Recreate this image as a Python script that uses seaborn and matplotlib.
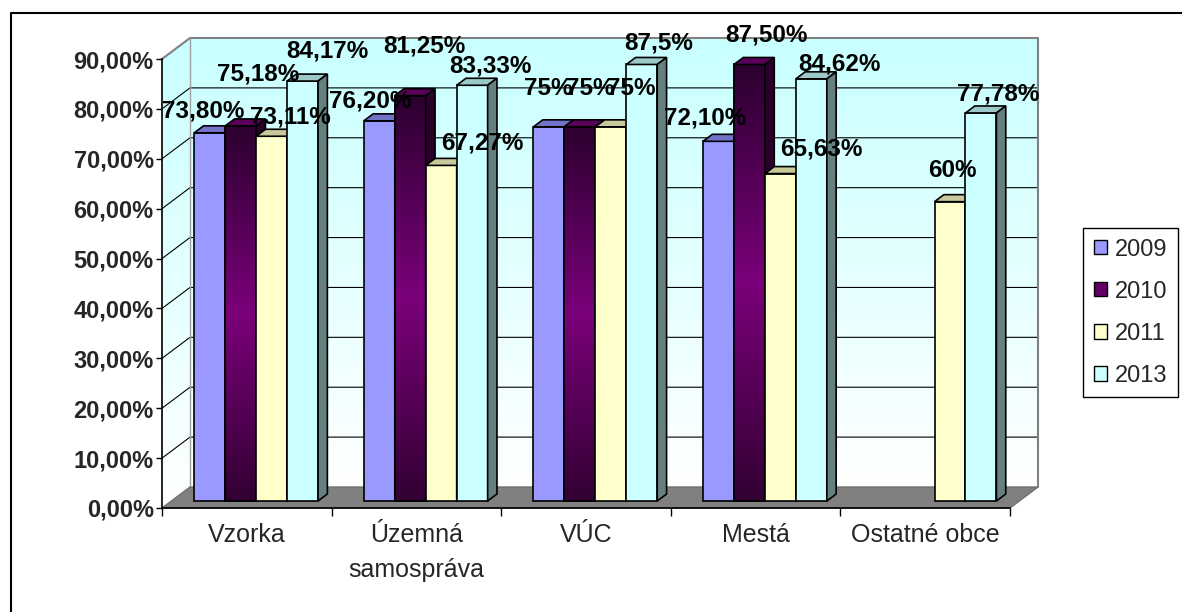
import numpy as np
import pandas as pd
import seaborn as sns
import matplotlib
matplotlib.use('Agg')
import matplotlib.pyplot as plt
from matplotlib.patches import Polygon, Rectangle, Patch
from matplotlib.lines import Line2D
from matplotlib.colors import to_rgb

# data
CATEGORIES = ["Vzorka", "Územná\nsamospráva", "VÚC", "Mestá", "Ostatné obce"]
YEARS = ["2009", "2010", "2011", "2013"]
V2009 = [73.80, 76.20, 75.0, 72.10, np.nan]
V2010 = [75.18, 81.25, 75.0, 87.50, np.nan]
V2011 = [73.11, 67.27, 75.0, 65.63, 60.0]
V2013 = [84.17, 83.33, 87.5, 84.62, 77.78]
L2009 = ["73,80%", "76,20%", "75%", "72,10%", ""]
L2010 = ["75,18%", "81,25%", "75%", "87,50%", ""]
L2011 = ["73,11%", "67,27%", "75%", "65,63%", "60%"]
L2013 = ["84,17%", "83,33%", "87,5%", "84,62%", "77,78%"]
Y_TICKS = [0, 10, 20, 30, 40, 50, 60, 70, 80, 90]

VALUES = {"2009": V2009, "2010": V2010, "2011": V2011, "2013": V2013}
LABELS = {"2009": L2009, "2010": L2010, "2011": L2011, "2013": L2013}

# label nudges in pixels (Excel placed them a bit irregularly)
NUDGE = {
    "2009": [(-11, 22), (-14, 20), (-5, 38), (-18, 23), (0, 0)],
    "2010": [(13, 52), (9, 50), (6, 38), (12, 29), (0, 0)],
    "2011": [(14, 19), (36, 22), (16, 38), (36, 25), (-2, 31)],
    "2013": [(20, 30), (14, 19), (12, 21), (23, 15), (13, 19)],
}

FRONT = {"2009": "#9999FF", "2010": "#660066", "2011": "#FFFFCC", "2013": "#CCFFFF"}
TOP = {"2009": "#7272C8", "2010": "#5A005A", "2011": "#C8C89B", "2013": "#9CC8C8"}
SIDE = {"2009": "#5C5CA0", "2010": "#2A002A", "2011": "#A0A070", "2013": "#668080"}
DEPTH_PX = (28, 21)  # oblique depth of the chart box, pixels

sns.set_style("white")
plt.rcParams["font.family"] = ["Liberation Sans", "DejaVu Sans"]

df = pd.DataFrame([
    {"category": c, "year": y, "value": VALUES[y][i]}
    for y in YEARS for i, c in enumerate(CATEGORIES)
]).dropna()

fig = plt.figure(figsize=(11.82, 6.12), dpi=100)
ax = fig.add_axes([162 / 1182, 104 / 612, 848 / 1182, 449 / 612])
ax.set_facecolor("none")

sns.barplot(data=df, x="category", y="value", hue="year", order=CATEGORIES,
            hue_order=YEARS, palette=FRONT, width=0.73, saturation=1,
            edgecolor="black", linewidth=1.2, legend=False, ax=ax)
ax.set_xlim(-0.5, 4.5)
ax.set_ylim(0, 90)

# depth in data units
pos = ax.get_position()
W, H = fig.get_size_inches() * fig.dpi
ddx = DEPTH_PX[0] / (pos.width * W / 5)
ddy = DEPTH_PX[1] / (pos.height * H / 90)


def grad_fill(xy, stops, zorder):
    poly = Polygon(xy, closed=True, facecolor="none", edgecolor="none",
                   zorder=zorder, clip_on=False)
    ax.add_patch(poly)
    xs = [p[0] for p in xy]
    ys = [p[1] for p in xy]
    t = np.linspace(0, 1, 200)
    cols = np.array([to_rgb(c) for c in stops])
    pos_s = np.linspace(0, 1, len(stops))
    img = np.stack([np.interp(t, pos_s, cols[:, k]) for k in range(3)], axis=1)
    im = ax.imshow(img[:, None, :], extent=(min(xs), max(xs), min(ys), max(ys)),
                   origin="lower", aspect="auto", zorder=zorder,
                   interpolation="bilinear")
    im.set_clip_box(fig.bbox)
    im.set_clip_path(poly)
    return im


# walls (bottom -> top colours)
wall = ["#FFFFFF", "#C8FFFF"]
grad_fill([(-0.5 + ddx, ddy), (4.5 + ddx, ddy), (4.5 + ddx, 90 + ddy),
           (-0.5 + ddx, 90 + ddy)], wall, 0.1)
grad_fill([(-0.5, 0), (-0.5 + ddx, ddy), (-0.5 + ddx, 90 + ddy), (-0.5, 90)],
          wall, 0.1)

for v in Y_TICKS[1:-1]:
    ax.plot([-0.5, -0.5 + ddx, 4.5 + ddx], [v, v + ddy, v + ddy],
            color="black", lw=0.8, zorder=0.5, clip_on=False)
ax.plot([-0.5, -0.5 + ddx, 4.5 + ddx, 4.5 + ddx], [90, 90 + ddy, 90 + ddy, ddy],
        color="#808080", lw=1.5, zorder=0.5, clip_on=False)
ax.plot([-0.5 + ddx, -0.5 + ddx], [ddy, 90 + ddy], color="#A0A0A0", lw=1,
        zorder=0.5, clip_on=False)

# floor
ax.add_patch(Polygon([(-0.5, 0), (4.5, 0), (4.5 + ddx, ddy), (-0.5 + ddx, ddy)],
                     closed=True, facecolor="#808080", edgecolor="#707070",
                     lw=1, zorder=1, clip_on=False))

# 3d bars
for k, (year, cont) in enumerate(zip(YEARS, ax.containers)):
    z = 3 + k * 0.1
    for bar in cont:
        h = bar.get_height()
        if not np.isfinite(h):
            continue
        ci = int(round(bar.get_x() + bar.get_width() / 2))
        x0 = bar.get_x() + ddx / 3
        x1 = x0 + bar.get_width()
        y0 = ddy / 3
        bar.set_x(x0)
        bar.set_y(y0)
        bar.set_zorder(z)
        bar.set_clip_on(False)
        if year == "2010":
            grad_fill([(x0, y0), (x1, y0), (x1, y0 + h), (x0, y0 + h)],
                      ["#320032", "#7A007A", "#2C002F"], z)
            ax.add_patch(Rectangle((x0, y0), x1 - x0, h, facecolor="none",
                                   edgecolor="black", lw=1.2, zorder=z,
                                   clip_on=False))
        top = [(x0, y0 + h), (x1, y0 + h), (x1 + ddx / 3, y0 + h + ddy / 3),
               (x0 + ddx / 3, y0 + h + ddy / 3)]
        side = [(x1, y0), (x1, y0 + h), (x1 + ddx / 3, y0 + h + ddy / 3),
                (x1 + ddx / 3, y0 + ddy / 3)]
        ax.add_patch(Polygon(top, closed=True, facecolor=TOP[year],
                             edgecolor="black", lw=1.2, zorder=z, clip_on=False))
        ax.add_patch(Polygon(side, closed=True, facecolor=SIDE[year],
                             edgecolor="black", lw=1.2, zorder=z, clip_on=False))
        nx, ny = NUDGE[year][ci]
        ax.annotate(LABELS[year][ci], xy=((x0 + x1) / 2 + ddx / 6, y0 + h),
                    xytext=(nx, ny), textcoords="offset pixels",
                    ha="center", va="center", fontsize=17.5, fontweight="bold",
                    color="black", zorder=10, annotation_clip=False)

# axes
for s in ["top", "right"]:
    ax.spines[s].set_visible(False)
for s in ["left", "bottom"]:
    ax.spines[s].set_color("black")
    ax.spines[s].set_linewidth(1.2)
    ax.spines[s].set_zorder(6)
ax.grid(False)
ax.set_xlabel("")
ax.set_ylabel("")
ax.set_yticks(Y_TICKS)
ax.set_yticklabels([f"{v:.2f}%".replace(".", ",") for v in Y_TICKS],
                   fontsize=17, fontweight="bold")
ax.tick_params(axis="y", length=4, width=1, pad=2, direction="out", left=True,
               color="black")
ax.set_xticks(np.arange(-0.5, 5, 1))
ax.set_xticklabels([])
ax.set_xticks(range(len(CATEGORIES)), minor=True)
ax.set_xticklabels(CATEGORIES, minor=True, fontsize=18)
ax.tick_params(axis="x", which="major", length=6, width=1, direction="out",
               bottom=True, color="black")
ax.tick_params(axis="x", which="minor", length=0, pad=11)
for t in ax.get_xticklabels(minor=True):
    t.set_linespacing(1.55)
ax.set_xlim(-0.5, 4.5)
ax.set_ylim(0, 90)

# legend
handles = [Patch(facecolor=FRONT[y], edgecolor="black", lw=1) for y in YEARS]
leg = fig.legend(handles, YEARS, loc="upper left",
                 bbox_to_anchor=(1083 / 1182, 1 - 228 / 612), frameon=True,
                 fancybox=False, edgecolor="black", framealpha=1, fontsize=17,
                 handlelength=0.55, handleheight=0.55, handletextpad=0.35,
                 labelspacing=0.85, borderpad=0.45, borderaxespad=0)
leg.get_frame().set_linewidth(1)

# outer chart frame (only top and left edges are inside the picture)
fig.add_artist(Line2D([11 / 1182, 11 / 1182, 1], [0, 1 - 13 / 612, 1 - 13 / 612],
                      transform=fig.transFigure, color="black", lw=1.5))

fig.savefig("out.png", dpi=100)
